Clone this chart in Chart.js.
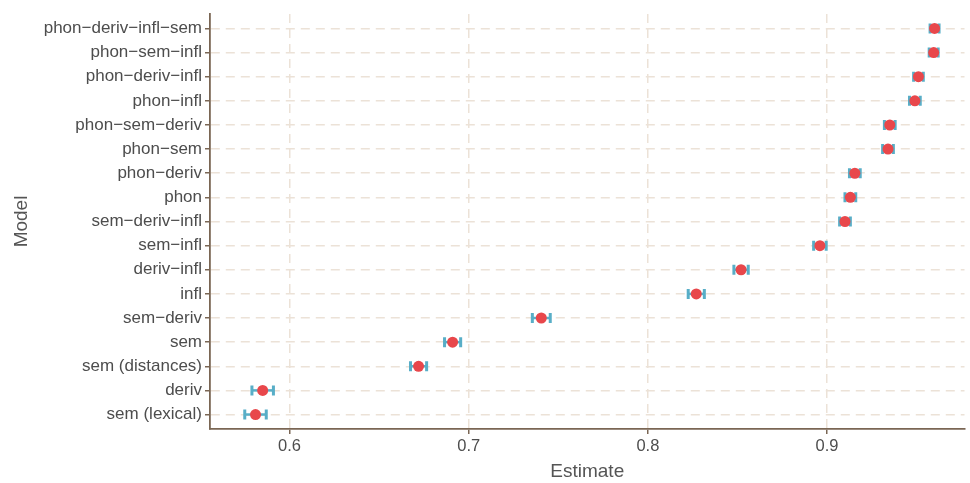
<!DOCTYPE html>
<html>
<head>
<meta charset="utf-8">
<script src="https://cdn.jsdelivr.net/npm/chart.js@4"></script>
<style>
  html, body { margin: 0; padding: 0; background: #ffffff; }
  #wrap { width: 970px; height: 483px; }
</style>
</head>
<body>
<div id="wrap"><canvas id="chart" width="970" height="483"></canvas></div>
<script>
// Models, top to bottom
const models = [
  'phon-deriv-infl-sem', 'phon-sem-infl', 'phon-deriv-infl', 'phon-infl',
  'phon-sem-deriv', 'phon-sem', 'phon-deriv', 'phon', 'sem-deriv-infl',
  'sem-infl', 'deriv-infl', 'infl', 'sem-deriv', 'sem', 'sem (distances)',
  'deriv', 'sem (lexical)'
];
const estimates = [
  0.960, 0.9595, 0.951, 0.949, 0.935, 0.934, 0.9155, 0.913, 0.910,
  0.896, 0.852, 0.827, 0.7405, 0.691, 0.672, 0.585, 0.581
];
const lower = [
  0.9575, 0.957, 0.9483, 0.946, 0.932, 0.931, 0.9125, 0.910, 0.907,
  0.8925, 0.848, 0.8225, 0.7355, 0.6865, 0.6675, 0.579, 0.575
];
const upper = [
  0.9625, 0.962, 0.9537, 0.952, 0.938, 0.937, 0.9185, 0.916, 0.913,
  0.8995, 0.856, 0.8315, 0.7455, 0.6955, 0.6765, 0.591, 0.587
];
const xTicks = [0.6, 0.7, 0.8, 0.9];

const gridColor = '#ECE2D7';
const axisColor = '#7A6654';
const textColor = '#4D4D4D';

// error bars drawn under the points
const errorBars = {
  id: 'errorBars',
  beforeDatasetsDraw(chart) {
    const ctx = chart.ctx;
    const xs = chart.scales.x, ys = chart.scales.y;
    ctx.save();
    ctx.strokeStyle = '#58AEC7';
    for (let i = 0; i < models.length; i++) {
      const x1 = xs.getPixelForValue(lower[i]);
      const x2 = xs.getPixelForValue(upper[i]);
      const y = ys.getPixelForValue(i);
      ctx.lineWidth = 2.5;
      ctx.beginPath();
      ctx.moveTo(x1, y);
      ctx.lineTo(x2, y);
      ctx.stroke();
      ctx.lineWidth = 3;
      ctx.beginPath();
      ctx.moveTo(x1, y - 5);
      ctx.lineTo(x1, y + 5);
      ctx.moveTo(x2, y - 5);
      ctx.lineTo(x2, y + 5);
      ctx.stroke();
    }
    ctx.restore();
  }
};

new Chart(document.getElementById('chart'), {
  type: 'scatter',
  data: {
    datasets: [{
      data: estimates.map((v, i) => ({ x: v, y: i })),
      backgroundColor: '#E8474B',
      borderWidth: 0,
      pointRadius: 5.5
    }]
  },
  options: {
    responsive: false,
    animation: false,
    layout: { padding: { top: 14, right: 0, left: 0, bottom: 0 } },
    plugins: { legend: { display: false }, tooltip: { enabled: false } },
    scales: {
      x: {
        type: 'linear',
        min: 0.5556,
        max: 0.9767,
        afterBuildTicks(s) { s.ticks = xTicks.map(v => ({ value: v })); },
        afterFit(s) { s.height = 54; s.paddingLeft = 0; s.paddingRight = 0; },
        ticks: {
          callback: v => v.toFixed(1),
          color: textColor,
          font: { family: 'Liberation Sans', size: 16.5 },
          padding: 3
        },
        grid: { color: gridColor, lineWidth: 1.5, tickLength: 5, tickColor: axisColor, tickWidth: 1.5 },
        border: { display: true, color: axisColor, width: 1.8, dash: [9, 6] },
        title: {
          display: true,
          text: 'Estimate',
          color: '#555555',
          font: { family: 'Liberation Sans', size: 19 },
          padding: { top: 0, bottom: 0 }
        }
      },
      y: {
        type: 'linear',
        reverse: true,
        min: -0.6,
        max: 16.6,
        afterBuildTicks(s) { s.ticks = models.map((m, i) => ({ value: i })); },
        afterFit(s) { s.width = 210; },
        ticks: {
          callback: v => (models[v] || '').replace(/-/g, '\u2212'),
          color: textColor,
          font: { family: 'Liberation Sans', size: 17 },
          padding: 3,
          autoSkip: false
        },
        grid: { color: gridColor, lineWidth: 1.5, tickLength: 5, tickColor: axisColor, tickWidth: 1.5 },
        border: { display: true, color: axisColor, width: 1.8, dash: [9, 6] },
        title: {
          display: true,
          text: 'Model',
          color: '#555555',
          font: { family: 'Liberation Sans', size: 19 },
          padding: { top: 10, bottom: 0 }
        }
      }
    }
  },
  plugins: [errorBars]
});
</script>
</body>
</html>
